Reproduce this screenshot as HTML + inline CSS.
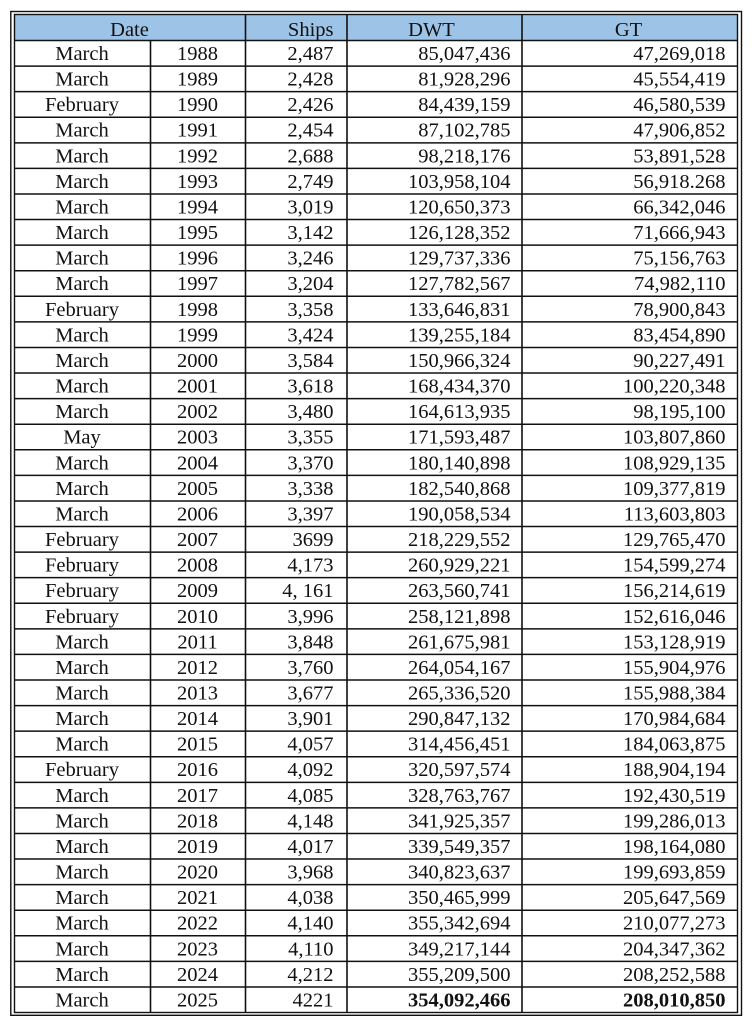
<!DOCTYPE html>
<html>
<head>
<meta charset="utf-8">
<style>
html,body{margin:0;padding:0;background:#fff;}
svg{display:block;}
text{font-family:"Liberation Serif","Times New Roman",serif;font-size:20.5px;fill:#111;}
.c{text-anchor:middle;}
.r{text-anchor:end;}
.b{font-weight:bold;}
</style>
</head>
<body>
<svg width="754" height="1024" viewBox="0 0 754 1024" xmlns="http://www.w3.org/2000/svg">
<rect x="0" y="0" width="754" height="1024" fill="#fff"/>
<rect x="14.5" y="14.5" width="723" height="26" fill="#9DC3E6"/>
<!-- outer double frame -->
<rect x="10.8" y="11.5" width="730.7" height="1003.8" fill="none" stroke="#111" stroke-width="1.4"/>
<rect x="14.5" y="14.5" width="723" height="998" fill="none" stroke="#111" stroke-width="1.4"/>
<!-- horizontal lines -->
<g stroke="#111" stroke-width="1.5">
<line x1="14.5" x2="737.5" y1="40.5" y2="40.5"/>
<line x1="14.5" x2="737.5" y1="66.08" y2="66.08"/>
<line x1="14.5" x2="737.5" y1="91.66" y2="91.66"/>
<line x1="14.5" x2="737.5" y1="117.24" y2="117.24"/>
<line x1="14.5" x2="737.5" y1="142.82" y2="142.82"/>
<line x1="14.5" x2="737.5" y1="168.4" y2="168.4"/>
<line x1="14.5" x2="737.5" y1="193.98" y2="193.98"/>
<line x1="14.5" x2="737.5" y1="219.56" y2="219.56"/>
<line x1="14.5" x2="737.5" y1="245.14" y2="245.14"/>
<line x1="14.5" x2="737.5" y1="270.72" y2="270.72"/>
<line x1="14.5" x2="737.5" y1="296.3" y2="296.3"/>
<line x1="14.5" x2="737.5" y1="321.88" y2="321.88"/>
<line x1="14.5" x2="737.5" y1="347.46" y2="347.46"/>
<line x1="14.5" x2="737.5" y1="373.04" y2="373.04"/>
<line x1="14.5" x2="737.5" y1="398.62" y2="398.62"/>
<line x1="14.5" x2="737.5" y1="424.2" y2="424.2"/>
<line x1="14.5" x2="737.5" y1="449.78" y2="449.78"/>
<line x1="14.5" x2="737.5" y1="475.36" y2="475.36"/>
<line x1="14.5" x2="737.5" y1="500.94" y2="500.94"/>
<line x1="14.5" x2="737.5" y1="526.52" y2="526.52"/>
<line x1="14.5" x2="737.5" y1="552.1" y2="552.1"/>
<line x1="14.5" x2="737.5" y1="577.68" y2="577.68"/>
<line x1="14.5" x2="737.5" y1="603.26" y2="603.26"/>
<line x1="14.5" x2="737.5" y1="628.84" y2="628.84"/>
<line x1="14.5" x2="737.5" y1="654.42" y2="654.42"/>
<line x1="14.5" x2="737.5" y1="680" y2="680"/>
<line x1="14.5" x2="737.5" y1="705.58" y2="705.58"/>
<line x1="14.5" x2="737.5" y1="731.16" y2="731.16"/>
<line x1="14.5" x2="737.5" y1="756.74" y2="756.74"/>
<line x1="14.5" x2="737.5" y1="782.32" y2="782.32"/>
<line x1="14.5" x2="737.5" y1="807.9" y2="807.9"/>
<line x1="14.5" x2="737.5" y1="833.48" y2="833.48"/>
<line x1="14.5" x2="737.5" y1="859.06" y2="859.06"/>
<line x1="14.5" x2="737.5" y1="884.64" y2="884.64"/>
<line x1="14.5" x2="737.5" y1="910.22" y2="910.22"/>
<line x1="14.5" x2="737.5" y1="935.8" y2="935.8"/>
<line x1="14.5" x2="737.5" y1="961.38" y2="961.38"/>
<line x1="14.5" x2="737.5" y1="986.96" y2="986.96"/>
</g>
<!-- vertical lines -->
<g stroke="#111" stroke-width="1.6">
<line x1="150.5" x2="150.5" y1="40.5" y2="1012.5"/>
<line x1="245.5" x2="245.5" y1="14.5" y2="1012.5"/>
<line x1="347" x2="347" y1="14.5" y2="1012.5"/>
<line x1="522" x2="522" y1="14.5" y2="1012.5"/>
</g>
<!-- header -->
<g transform="translate(0,36)">
<text x="129.5" y="0" class="c">Date</text>
<text x="333.5" y="0" class="r">Ships</text>
<text x="431.5" y="0" class="c">DWT</text>
<text x="628.5" y="0" class="c">GT</text>
</g>
<g transform="translate(0,60)"><text x="82" class="c">March</text><text x="197.5" class="c">1988</text><text x="333.5" class="r">2,487</text><text x="510.5" class="r">85,047,436</text><text x="725.5" class="r">47,269,018</text></g>
<g transform="translate(0,85.58)"><text x="82" class="c">March</text><text x="197.5" class="c">1989</text><text x="333.5" class="r">2,428</text><text x="510.5" class="r">81,928,296</text><text x="725.5" class="r">45,554,419</text></g>
<g transform="translate(0,111.16)"><text x="82" class="c">February</text><text x="197.5" class="c">1990</text><text x="333.5" class="r">2,426</text><text x="510.5" class="r">84,439,159</text><text x="725.5" class="r">46,580,539</text></g>
<g transform="translate(0,136.74)"><text x="82" class="c">March</text><text x="197.5" class="c">1991</text><text x="333.5" class="r">2,454</text><text x="510.5" class="r">87,102,785</text><text x="725.5" class="r">47,906,852</text></g>
<g transform="translate(0,162.32)"><text x="82" class="c">March</text><text x="197.5" class="c">1992</text><text x="333.5" class="r">2,688</text><text x="510.5" class="r">98,218,176</text><text x="725.5" class="r">53,891,528</text></g>
<g transform="translate(0,187.9)"><text x="82" class="c">March</text><text x="197.5" class="c">1993</text><text x="333.5" class="r">2,749</text><text x="510.5" class="r">103,958,104</text><text x="725.5" class="r">56,918.268</text></g>
<g transform="translate(0,213.48)"><text x="82" class="c">March</text><text x="197.5" class="c">1994</text><text x="333.5" class="r">3,019</text><text x="510.5" class="r">120,650,373</text><text x="725.5" class="r">66,342,046</text></g>
<g transform="translate(0,239.06)"><text x="82" class="c">March</text><text x="197.5" class="c">1995</text><text x="333.5" class="r">3,142</text><text x="510.5" class="r">126,128,352</text><text x="725.5" class="r">71,666,943</text></g>
<g transform="translate(0,264.64)"><text x="82" class="c">March</text><text x="197.5" class="c">1996</text><text x="333.5" class="r">3,246</text><text x="510.5" class="r">129,737,336</text><text x="725.5" class="r">75,156,763</text></g>
<g transform="translate(0,290.22)"><text x="82" class="c">March</text><text x="197.5" class="c">1997</text><text x="333.5" class="r">3,204</text><text x="510.5" class="r">127,782,567</text><text x="725.5" class="r">74,982,110</text></g>
<g transform="translate(0,315.8)"><text x="82" class="c">February</text><text x="197.5" class="c">1998</text><text x="333.5" class="r">3,358</text><text x="510.5" class="r">133,646,831</text><text x="725.5" class="r">78,900,843</text></g>
<g transform="translate(0,341.38)"><text x="82" class="c">March</text><text x="197.5" class="c">1999</text><text x="333.5" class="r">3,424</text><text x="510.5" class="r">139,255,184</text><text x="725.5" class="r">83,454,890</text></g>
<g transform="translate(0,366.96)"><text x="82" class="c">March</text><text x="197.5" class="c">2000</text><text x="333.5" class="r">3,584</text><text x="510.5" class="r">150,966,324</text><text x="725.5" class="r">90,227,491</text></g>
<g transform="translate(0,392.54)"><text x="82" class="c">March</text><text x="197.5" class="c">2001</text><text x="333.5" class="r">3,618</text><text x="510.5" class="r">168,434,370</text><text x="725.5" class="r">100,220,348</text></g>
<g transform="translate(0,418.12)"><text x="82" class="c">March</text><text x="197.5" class="c">2002</text><text x="333.5" class="r">3,480</text><text x="510.5" class="r">164,613,935</text><text x="725.5" class="r">98,195,100</text></g>
<g transform="translate(0,443.7)"><text x="82" class="c">May</text><text x="197.5" class="c">2003</text><text x="333.5" class="r">3,355</text><text x="510.5" class="r">171,593,487</text><text x="725.5" class="r">103,807,860</text></g>
<g transform="translate(0,469.28)"><text x="82" class="c">March</text><text x="197.5" class="c">2004</text><text x="333.5" class="r">3,370</text><text x="510.5" class="r">180,140,898</text><text x="725.5" class="r">108,929,135</text></g>
<g transform="translate(0,494.86)"><text x="82" class="c">March</text><text x="197.5" class="c">2005</text><text x="333.5" class="r">3,338</text><text x="510.5" class="r">182,540,868</text><text x="725.5" class="r">109,377,819</text></g>
<g transform="translate(0,520.44)"><text x="82" class="c">March</text><text x="197.5" class="c">2006</text><text x="333.5" class="r">3,397</text><text x="510.5" class="r">190,058,534</text><text x="725.5" class="r">113,603,803</text></g>
<g transform="translate(0,546.02)"><text x="82" class="c">February</text><text x="197.5" class="c">2007</text><text x="333.5" class="r">3699</text><text x="510.5" class="r">218,229,552</text><text x="725.5" class="r">129,765,470</text></g>
<g transform="translate(0,571.6)"><text x="82" class="c">February</text><text x="197.5" class="c">2008</text><text x="333.5" class="r">4,173</text><text x="510.5" class="r">260,929,221</text><text x="725.5" class="r">154,599,274</text></g>
<g transform="translate(0,597.18)"><text x="82" class="c">February</text><text x="197.5" class="c">2009</text><text x="333.5" class="r">4, 161</text><text x="510.5" class="r">263,560,741</text><text x="725.5" class="r">156,214,619</text></g>
<g transform="translate(0,622.76)"><text x="82" class="c">February</text><text x="197.5" class="c">2010</text><text x="333.5" class="r">3,996</text><text x="510.5" class="r">258,121,898</text><text x="725.5" class="r">152,616,046</text></g>
<g transform="translate(0,648.34)"><text x="82" class="c">March</text><text x="197.5" class="c">2011</text><text x="333.5" class="r">3,848</text><text x="510.5" class="r">261,675,981</text><text x="725.5" class="r">153,128,919</text></g>
<g transform="translate(0,673.92)"><text x="82" class="c">March</text><text x="197.5" class="c">2012</text><text x="333.5" class="r">3,760</text><text x="510.5" class="r">264,054,167</text><text x="725.5" class="r">155,904,976</text></g>
<g transform="translate(0,699.5)"><text x="82" class="c">March</text><text x="197.5" class="c">2013</text><text x="333.5" class="r">3,677</text><text x="510.5" class="r">265,336,520</text><text x="725.5" class="r">155,988,384</text></g>
<g transform="translate(0,725.08)"><text x="82" class="c">March</text><text x="197.5" class="c">2014</text><text x="333.5" class="r">3,901</text><text x="510.5" class="r">290,847,132</text><text x="725.5" class="r">170,984,684</text></g>
<g transform="translate(0,750.66)"><text x="82" class="c">March</text><text x="197.5" class="c">2015</text><text x="333.5" class="r">4,057</text><text x="510.5" class="r">314,456,451</text><text x="725.5" class="r">184,063,875</text></g>
<g transform="translate(0,776.24)"><text x="82" class="c">February</text><text x="197.5" class="c">2016</text><text x="333.5" class="r">4,092</text><text x="510.5" class="r">320,597,574</text><text x="725.5" class="r">188,904,194</text></g>
<g transform="translate(0,801.82)"><text x="82" class="c">March</text><text x="197.5" class="c">2017</text><text x="333.5" class="r">4,085</text><text x="510.5" class="r">328,763,767</text><text x="725.5" class="r">192,430,519</text></g>
<g transform="translate(0,827.4)"><text x="82" class="c">March</text><text x="197.5" class="c">2018</text><text x="333.5" class="r">4,148</text><text x="510.5" class="r">341,925,357</text><text x="725.5" class="r">199,286,013</text></g>
<g transform="translate(0,852.98)"><text x="82" class="c">March</text><text x="197.5" class="c">2019</text><text x="333.5" class="r">4,017</text><text x="510.5" class="r">339,549,357</text><text x="725.5" class="r">198,164,080</text></g>
<g transform="translate(0,878.56)"><text x="82" class="c">March</text><text x="197.5" class="c">2020</text><text x="333.5" class="r">3,968</text><text x="510.5" class="r">340,823,637</text><text x="725.5" class="r">199,693,859</text></g>
<g transform="translate(0,904.14)"><text x="82" class="c">March</text><text x="197.5" class="c">2021</text><text x="333.5" class="r">4,038</text><text x="510.5" class="r">350,465,999</text><text x="725.5" class="r">205,647,569</text></g>
<g transform="translate(0,929.72)"><text x="82" class="c">March</text><text x="197.5" class="c">2022</text><text x="333.5" class="r">4,140</text><text x="510.5" class="r">355,342,694</text><text x="725.5" class="r">210,077,273</text></g>
<g transform="translate(0,955.3)"><text x="82" class="c">March</text><text x="197.5" class="c">2023</text><text x="333.5" class="r">4,110</text><text x="510.5" class="r">349,217,144</text><text x="725.5" class="r">204,347,362</text></g>
<g transform="translate(0,980.88)"><text x="82" class="c">March</text><text x="197.5" class="c">2024</text><text x="333.5" class="r">4,212</text><text x="510.5" class="r">355,209,500</text><text x="725.5" class="r">208,252,588</text></g>
<g transform="translate(0,1006.46)"><text x="82" class="c">March</text><text x="197.5" class="c">2025</text><text x="333.5" class="r">4221</text><text x="510.5" class="r b">354,092,466</text><text x="725.5" class="r b">208,010,850</text></g>
</svg>
</body>
</html>
